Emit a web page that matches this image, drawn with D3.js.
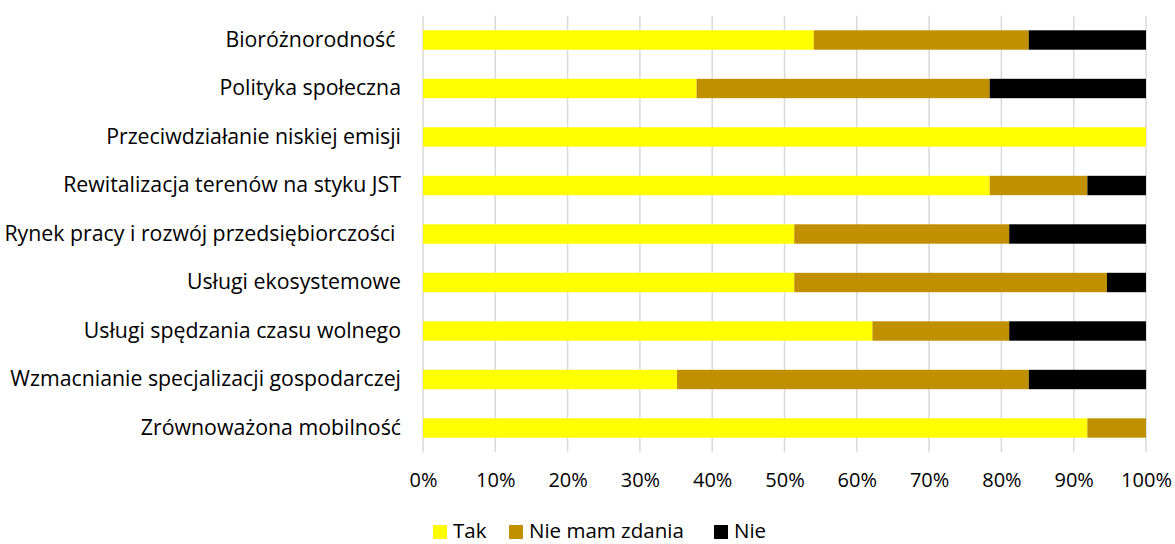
<!DOCTYPE html>
<html><head><meta charset="utf-8">
<script src="https://cdn.jsdelivr.net/npm/d3@7"></script>
<style>body{margin:0;background:#fff}svg{display:block}text{font-family:"Open Sans",sans-serif;fill:#000}</style>
</head><body><svg id="c" width="1175" height="544"></svg>
<script>
const categories = ["Bioróżnorodność ","Polityka społeczna","Przeciwdziałanie niskiej emisji","Rewitalizacja terenów na styku JST","Rynek pracy i rozwój przedsiębiorczości ","Usługi ekosystemowe","Usługi spędzania czasu wolnego","Wzmacnianie specjalizacji gospodarczej","Zrównoważona mobilność"];
const seriesNames = ["Tak","Nie mam zdania","Nie"];
const tak = [54.05,37.84,100,78.38,51.35,51.35,62.16,35.14,91.89];
const nieMamZdania = [29.73,40.54,0,13.51,29.73,43.24,18.92,48.65,8.11];
const nie = [16.22,21.62,0,8.11,18.92,5.41,18.92,16.22,0];
const colors = ["#ffff00","#c09000","#000000"];
const ticks = [0,10,20,30,40,50,60,70,80,90,100];

const svg = d3.select("#c");
const x = d3.scaleLinear().domain([0,100]).range([423,1146]);
const y = d3.scaleBand().domain(categories).range([15.75,452.25]).paddingInner(0.6).paddingOuter(0.3);

svg.append("g").selectAll("line").data(ticks).join("line")
  .attr("x1",d=>x(d)).attr("x2",d=>x(d)).attr("y1",15.75).attr("y2",452.25)
  .attr("stroke","#d9d9d9").attr("stroke-width",1.5);

const rows = categories.map((c,i)=>({cat:c,Tak:tak[i],"Nie mam zdania":nieMamZdania[i],Nie:nie[i]}));
const stacked = d3.stack().keys(seriesNames)(rows);
svg.append("g").selectAll("g").data(stacked).join("g").attr("fill",(d,i)=>colors[i])
  .selectAll("rect").data(d=>d.filter(s=>s[1]-s[0]>0)).join("rect")
  .attr("x",d=>x(d[0])).attr("width",d=>x(d[1])-x(d[0]))
  .attr("y",d=>y(d.data.cat)).attr("height",y.bandwidth());

const ax = svg.append("g").attr("transform","translate(0,452)")
  .call(d3.axisBottom(x).tickValues(ticks).tickFormat(d=>d+"%").tickSize(0).tickPadding(21));
ax.select(".domain").remove();
ax.selectAll("text").attr("font-size",20).style("font-family","'Open Sans',sans-serif");

const ay = svg.append("g").attr("transform","translate(401,0)")
  .call(d3.axisLeft(y).tickSize(0).tickPadding(0));
ay.select(".domain").remove();
ay.selectAll("text").attr("font-size",21.3).attr("xml:space","preserve").style("white-space","pre").style("font-family","'Open Sans',sans-serif");

const legX = [433,509,714];
const lg = svg.append("g").selectAll("g").data(seriesNames).join("g")
  .attr("transform",(d,i)=>`translate(${legX[i]},525)`);
lg.append("rect").attr("width",14).attr("height",14).attr("fill",(d,i)=>colors[i]);
lg.append("text").attr("x",20).attr("y",13).attr("font-size",20.5).text(d=>d);
</script></body></html>
